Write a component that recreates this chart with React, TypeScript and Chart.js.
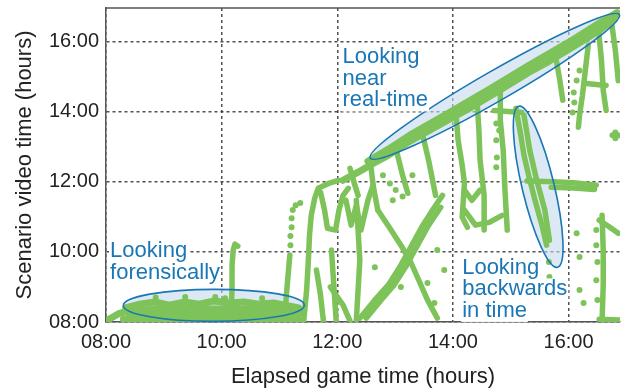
import { useEffect, useRef } from 'react';
import { Chart, registerables } from 'chart.js';

Chart.register(...registerables);

type Pt = [number, number]; // [elapsed game time (h), scenario video time (h)]

// ---- axes -----------------------------------------------------------------
const GAME_TICKS = [8, 10, 12, 14, 16];
const VIDEO_TICKS = [8, 10, 12, 14, 16];
const GAME_RANGE: Pt = [8, 16.89];
const VIDEO_RANGE: Pt = [8, 16.95];

// ---- viewing traces (game time, video time) --------------------------------
const forensicTop: Pt[] = [[8.34, 8.40], [8.58, 8.51], [8.84, 8.57], [9.10, 8.48], [9.36, 8.57], [9.61, 8.51], [9.87, 8.60], [10.13, 8.54], [10.39, 8.57], [10.64, 8.51], [10.90, 8.54], [11.16, 8.46], [11.33, 8.40]];
const forensicMid: Pt[] = [[8.00, 8.03], [8.21, 8.23], [8.41, 8.33], [8.93, 8.36], [9.61, 8.38], [10.30, 8.36], [10.99, 8.38], [11.36, 8.30]];
const forensicLow: Pt[] = [[8.40, 8.20], [9.27, 8.22], [9.96, 8.20], [10.64, 8.22], [11.33, 8.20]];
const forensicBase: Pt[] = [[8.30, 8.08], [9.27, 8.08], [9.96, 8.07], [10.64, 8.08], [11.33, 8.08]];
const spike1010: Pt[] = [[10.16, 8.10], [10.18, 8.91], [10.18, 9.62], [10.20, 10.05], [10.23, 10.22], [10.28, 10.16]];
const riseEarly: Pt[] = [[11.09, 8.05], [11.12, 8.77], [11.16, 9.54], [11.18, 9.91]];
const riseA: Pt[] = [[11.42, 8.03], [11.47, 8.91], [11.50, 9.76], [11.52, 10.48], [11.55, 11.04], [11.61, 11.53], [11.67, 11.81], [11.85, 11.95], [12.02, 12.04]];
const loopA: Pt[] = [[11.71, 11.70], [11.78, 11.19], [11.83, 10.67], [11.97, 10.62], [12.03, 11.19], [12.10, 11.61], [12.19, 11.81]];
const loopB: Pt[] = [[12.15, 11.47], [12.24, 10.76], [12.33, 11.33], [12.41, 10.62], [12.53, 11.47], [12.62, 11.90]];
const nearRealTime: Pt[] = [[12.10, 12.04], [12.36, 12.27], [12.62, 12.52], [12.88, 12.75], [13.25, 13.15], [13.56, 13.43], [13.94, 13.78], [14.25, 14.06], [14.63, 14.43], [14.97, 14.77], [15.31, 15.11], [15.66, 15.43], [16.00, 15.77], [16.31, 16.08], [16.57, 16.36], [16.79, 16.62]];
const nearRealTimeEdge: Pt[] = [[12.53, 12.58], [12.88, 12.92], [13.25, 13.32], [13.94, 13.97], [14.63, 14.63], [15.31, 15.31], [16.00, 15.97], [16.57, 16.56], [16.84, 16.82]];
const nearRealTimeFill: Pt[] = [[12.70, 12.70], [13.25, 13.24], [13.94, 13.88], [14.63, 14.54], [15.31, 15.21], [16.00, 15.87], [16.57, 16.46], [16.81, 16.72]];
const dropA: Pt[] = [[12.22, 12.38], [12.29, 11.98], [12.36, 11.61]];
const dropB: Pt[] = [[12.57, 12.61], [12.62, 11.90], [12.70, 11.19]];
const dropC: Pt[] = [[13.03, 12.84], [13.13, 12.18], [13.22, 11.67]];
const dropD: Pt[] = [[13.48, 13.32], [13.58, 12.61], [13.70, 11.61]];
const dropE: Pt[] = [[14.06, 13.80], [14.09, 13.18], [14.16, 12.47], [14.20, 11.96], [14.16, 10.99], [14.25, 10.70]];
const dropF: Pt[] = [[14.42, 14.23], [14.45, 13.46], [14.47, 12.61], [14.54, 11.61], [14.54, 10.62]];
const uBottom: Pt[] = [[14.20, 11.76], [14.33, 11.47], [14.47, 11.76]];
const dropG: Pt[] = [[14.82, 14.66], [14.82, 13.75], [14.87, 12.89], [14.90, 11.76], [14.94, 10.62]];
const tBar: Pt[] = [[14.71, 14.03], [15.19, 13.97]];
const wCross: Pt[] = [[14.20, 11.19], [14.39, 10.76], [14.63, 10.84], [14.85, 11.04]];
const backwardsMain: Pt[] = [[15.09, 14.09], [15.16, 13.46], [15.23, 12.75], [15.31, 12.18], [15.42, 11.47], [15.54, 10.76], [15.62, 10.19]];
const backwardsSide: Pt[] = [[15.23, 13.89], [15.33, 12.89], [15.45, 12.04], [15.59, 11.19], [15.67, 10.33]];
const noonHold: Pt[] = [[15.28, 12.02], [15.74, 12.00], [16.09, 11.97], [16.48, 11.90]];
const noonHold2: Pt[] = [[15.70, 11.84], [16.09, 11.82], [16.45, 11.78]];
const rightColumn: Pt[] = [[16.58, 11.04], [16.60, 10.05], [16.60, 9.05], [16.58, 8.03]];
const rightBlob: Pt[] = [[16.53, 10.90], [16.69, 10.73], [16.86, 10.53]];
const lateDropA: Pt[] = [[16.34, 15.88], [16.29, 15.17], [16.24, 14.46], [16.19, 13.89], [16.17, 13.55]];
const lateDropB: Pt[] = [[16.52, 16.31], [16.57, 15.45], [16.60, 14.60], [16.65, 14.03]];
const lateDropC: Pt[] = [[16.74, 16.59], [16.81, 15.74], [16.86, 14.88]];
const lateDropD: Pt[] = [[15.79, 15.45], [15.85, 14.88], [15.90, 14.32]];
const lateBar: Pt[] = [[16.31, 14.80], [16.65, 14.74]];
const xRise: Pt[] = [[12.39, 8.11], [12.65, 8.63], [12.88, 9.05], [13.10, 9.62], [13.27, 10.13], [13.48, 10.76], [13.68, 11.27], [13.82, 11.61]];
const xRise2: Pt[] = [[12.50, 8.11], [12.76, 8.63], [12.98, 9.05], [13.20, 9.62], [13.37, 10.13], [13.58, 10.76], [13.79, 11.27]];
const xFall: Pt[] = [[12.70, 11.19], [12.91, 10.67], [13.10, 10.19], [13.27, 9.71], [13.41, 9.19], [13.56, 8.63], [13.73, 8.11]];
const column1220: Pt[] = [[12.33, 11.47], [12.36, 10.62], [12.39, 9.76], [12.36, 8.91], [12.33, 8.06]];
const lowA: Pt[] = [[11.64, 9.48], [11.71, 8.77], [11.76, 8.03]];
const lowB: Pt[] = [[11.88, 9.00], [12.10, 8.48], [12.22, 8.03]];
const column1155: Pt[] = [[11.90, 10.05], [11.98, 8.06]];
const hiddenA: Pt[] = [[14.42, 9.76], [14.59, 8.14]];
const bottomRight: Pt[] = [[16.53, 8.08], [16.88, 8.06]];

// dense viewing bands get a heavier stroke
const BANDS: Pt[][] = [forensicTop, forensicMid, forensicLow, forensicBase, nearRealTime, nearRealTimeEdge, nearRealTimeFill];
const TRACES: Pt[][] = [
  spike1010, riseEarly, riseA, loopA, loopB,
  dropA, dropB, dropC, dropD, dropE, dropF, uBottom,
  dropG, tBar, wCross, backwardsMain, backwardsSide, noonHold, noonHold2, rightColumn,
  rightBlob, lateDropA, lateDropB, lateDropC, lateDropD, lateBar, xRise, xRise2, xFall,
  column1220, lowA, lowB, column1155, hiddenA, bottomRight,
];

// isolated samples
const earlyDots: Pt[] = [[11.19, 10.19], [11.19, 10.45], [11.21, 10.70], [11.21, 10.96], [11.23, 11.19], [11.28, 11.33], [11.36, 11.39], [8.86, 8.70], [9.37, 8.71], [9.89, 8.71], [10.06, 8.68], [10.70, 8.68]];
const midDots: Pt[] = [[12.79, 12.18], [12.91, 11.95], [13.01, 11.76], [12.96, 11.47], [13.13, 11.58], [12.65, 9.56], [13.10, 9.00], [13.56, 9.11], [13.68, 8.54], [13.30, 12.18], [13.73, 10.05], [13.85, 9.48], [14.75, 13.66], [14.80, 13.46], [14.75, 13.18], [14.76, 12.69], [14.75, 12.41]];
const lateDots: Pt[] = [[16.19, 15.17], [16.14, 14.88], [16.09, 14.54], [16.10, 14.26], [16.07, 13.97], [16.48, 10.62], [16.48, 10.19], [16.50, 9.71], [16.48, 9.19], [16.50, 8.63], [16.14, 10.53], [16.19, 9.85], [16.19, 8.91], [16.26, 8.54], [15.66, 9.71], [15.67, 9.28], [16.76, 13.32], [16.81, 13.32], [16.86, 13.32], [16.81, 13.40], [16.81, 13.24]];

// ---- callouts -------------------------------------------------------------
const ELLIPSE_TIPS: [Pt, Pt][] = [
  [[12.57, 12.67], [16.88, 16.76]],
  [[15.14, 14.15], [15.81, 9.56]],
  [[8.30, 8.47], [11.43, 8.48]],
];
const CALLOUT_TEXT: string[][] = [
  ['Looking', 'near', 'real-time'],
  ['Looking', 'forensically'],
  ['Looking', 'backwards', 'in time'],
];
const CALLOUT_ANCHOR: Pt[] = [[12.09, 15.37], [8.07, 9.85], [14.16, 9.37]];

// ---- styles ---------------------------------------------------------------
const FONT = '"Liberation Sans", Arial, Helvetica, sans-serif';
const GREEN = '#7dc35a';
const BLUE = '#1a77b4';
const ELLIPSE_FILL = 'rgba(196, 218, 238, 0.6)';
const GRID = 'rgba(50, 50, 50, 0.85)';
const AXIS = '#555555';
const INK = '#222222';
const ELLIPSE_HALF_WIDTH = [15, 16, 16];
const LINE_STEP = 21.5;

const fmtHour = (v: number) => `${String(Math.round(v)).padStart(2, '0')}:00`;
const toXY = (pts: Pt[]) => pts.map(([x, y]) => ({ x, y }));

function ellipsePath(chart: any, i: number) {
  const { ctx, scales } = chart;
  const [a, b] = ELLIPSE_TIPS[i];
  const x1 = scales.x.getPixelForValue(a[0]);
  const y1 = scales.y.getPixelForValue(a[1]);
  const x2 = scales.x.getPixelForValue(b[0]);
  const y2 = scales.y.getPixelForValue(b[1]);
  const r = Math.hypot(x2 - x1, y2 - y1) / 2;
  ctx.beginPath();
  ctx.ellipse((x1 + x2) / 2, (y1 + y2) / 2, r, ELLIPSE_HALF_WIDTH[i], Math.atan2(y2 - y1, x2 - x1), 0, Math.PI * 2);
}

const calloutPlugin = {
  id: 'callouts',
  beforeDatasetsDraw(chart: any) {
    const { ctx } = chart;
    ctx.save();
    ELLIPSE_TIPS.forEach((_, i) => {
      ellipsePath(chart, i);
      ctx.fillStyle = ELLIPSE_FILL;
      ctx.fill();
    });
    ctx.restore();
  },
  afterDatasetsDraw(chart: any) {
    const { ctx, scales, chartArea } = chart;
    ctx.save();
    ELLIPSE_TIPS.forEach((_, i) => {
      ellipsePath(chart, i);
      ctx.strokeStyle = BLUE;
      ctx.lineWidth = 1.6;
      ctx.stroke();
    });
    // labels on a white ground
    ctx.font = `22px ${FONT}`;
    ctx.textAlign = 'left';
    ctx.textBaseline = 'alphabetic';
    CALLOUT_TEXT.forEach((lines, i) => {
      const x = scales.x.getPixelForValue(CALLOUT_ANCHOR[i][0]);
      const y0 = scales.y.getPixelForValue(CALLOUT_ANCHOR[i][1]);
      lines.forEach((line, j) => {
        const y = y0 + j * LINE_STEP;
        const w = ctx.measureText(line).width;
        ctx.fillStyle = '#ffffff';
        ctx.fillRect(x - 1, y - 17, w + 2, 22);
      });
      lines.forEach((line, j) => {
        ctx.fillStyle = BLUE;
        ctx.fillText(line, x, y0 + j * LINE_STEP);
      });
    });
    // top frame line
    ctx.beginPath();
    ctx.moveTo(chartArea.left, chartArea.top);
    ctx.lineTo(chartArea.right, chartArea.top);
    ctx.strokeStyle = AXIS;
    ctx.lineWidth = 1.5;
    ctx.stroke();
    ctx.restore();
  },
};

export default function App() {
  const canvasRef = useRef<HTMLCanvasElement | null>(null);

  useEffect(() => {
    const canvas = canvasRef.current;
    if (!canvas) return;

    const lineSet = (t: Pt[], width: number) => ({
      data: toXY(t),
      showLine: true,
      borderColor: GREEN,
      backgroundColor: GREEN,
      borderWidth: width,
      borderCapStyle: 'round',
      borderJoinStyle: 'round',
      pointRadius: 0,
      tension: 0,
      fill: false,
    });
    const bandSets = BANDS.map((t) => lineSet(t, 7));
    const traceSets = TRACES.map((t) => lineSet(t, 5.5));
    const dotSets = [earlyDots, midDots, lateDots].map((d) => ({
      data: toXY(d),
      showLine: false,
      pointRadius: 3,
      pointBorderWidth: 0,
      backgroundColor: GREEN,
      borderColor: GREEN,
    }));

    const tickFont = { family: FONT, size: 20 };
    const titleFont = { family: FONT, size: 22, lineHeight: 1 };

    const chart = new Chart(canvas, {
      type: 'scatter',
      data: { datasets: [...bandSets, ...traceSets, ...dotSets] as any },
      options: {
        animation: false,
        responsive: false,
        events: [],
        layout: { padding: { top: 8, left: 0, right: 0, bottom: 0 } },
        plugins: { legend: { display: false }, tooltip: { enabled: false } },
        scales: {
          x: {
            type: 'linear',
            position: 'bottom',
            min: GAME_RANGE[0],
            max: GAME_RANGE[1],
            afterBuildTicks: (s: any) => {
              s.ticks = GAME_TICKS.map((value) => ({ value }));
            },
            afterFit: (s: any) => {
              s.height = 66;
              s.paddingLeft = 0;
              s.paddingRight = 0;
            },
            ticks: { callback: (v: any) => fmtHour(Number(v)), font: tickFont, color: INK, padding: 8, maxRotation: 0, autoSkip: false },
            grid: { color: GRID, lineWidth: 1.5, drawTicks: false },
            border: { display: true, color: AXIS, width: 1.5, dash: [3, 3] },
            title: { display: true, text: 'Elapsed game time (hours)', font: titleFont, color: INK, padding: { top: 0, bottom: 0 } },
          },
          y: {
            type: 'linear',
            position: 'left',
            min: VIDEO_RANGE[0],
            max: VIDEO_RANGE[1],
            afterBuildTicks: (s: any) => {
              s.ticks = VIDEO_TICKS.map((value) => ({ value }));
            },
            afterFit: (s: any) => {
              s.width = 106;
              s.paddingTop = 0;
              s.paddingBottom = 0;
            },
            ticks: { callback: (v: any) => fmtHour(Number(v)), font: tickFont, color: INK, padding: 7, autoSkip: false },
            grid: { color: GRID, lineWidth: 1.5, drawTicks: false },
            border: { display: true, color: AXIS, width: 1.5, dash: [3, 3] },
            title: { display: true, text: 'Scenario video time (hours)', font: titleFont, color: INK, padding: { top: 14, bottom: 0 } },
          },
        },
      } as any,
      plugins: [calloutPlugin],
    });

    return () => chart.destroy();
  }, []);

  return (
    <div style={{ position: 'fixed', left: 0, top: 0, width: 624, height: 388, background: '#ffffff' }}>
      <canvas ref={canvasRef} width={624} height={388} style={{ display: 'block' }} />
    </div>
  );
}
